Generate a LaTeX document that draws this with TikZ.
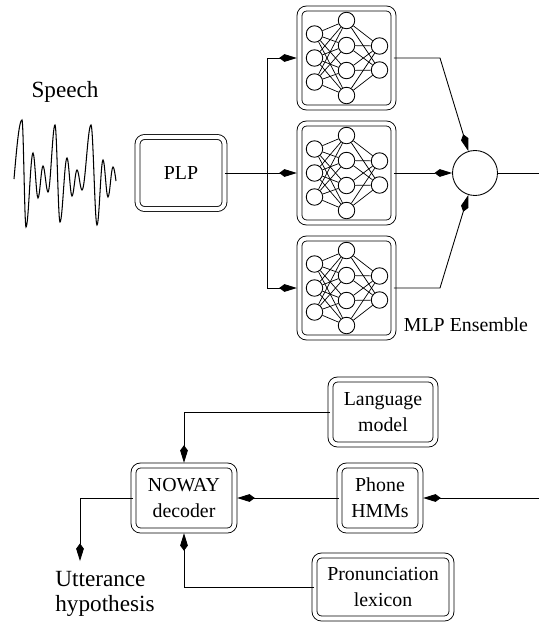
\documentclass[tikz,border=0pt]{standalone}
\usepackage{fontspec}
\setmainfont{Liberation Serif}
\usetikzlibrary{arrows.meta,positioning}

\tikzset{
  blk/.style={draw, double, double distance=2.3pt, rounded corners=4pt,
    align=center, inner sep=0pt, font=\fontsize{11.3}{14.7}\selectfont},
  unit/.style={circle, draw, minimum size=0.33cm, inner sep=0pt},
  txt/.style={font=\fontsize{11.3}{14.7}\selectfont, inner sep=0pt},
  lbl/.style={font=\fontsize{13.2}{14.4}\selectfont, inner sep=0pt},
  arr/.style={-{Kite[length=10pt,width=4.4pt,inset=3pt]}},
  arrd/.style={arr, shorten >=1.3pt},
}

\begin{document}
\begin{tikzpicture}[x=0.02cm, y=-0.02cm, line width=0.5pt]
  \useasboundingbox (0,0) rectangle (539,622);

  \node[lbl] (speech) at (65,92) {Speech};
  \draw[line width=0.6pt] (14,179) sin (22,120)
    \foreach \x/\y [remember=\x as \px (initially 22), remember=\y as \py (initially 120)]
      in {26/227,33/153,38/198,43/166,48/192,55/125,60/222,67/158,72/196,
          77/170,82/190,91/125,97/225,103/160,108/197,113/167}
      { cos ({(\px+\x)/2},{(\py+\y)/2}) sin (\x,\y) }
    cos (116,181);

  \node[blk, minimum width=1.74cm, minimum height=1.44cm] (plp) at (181,173) {PLP};
  \coordinate (trunk) at (267,173);

  % ensemble of nets
  \foreach \b/\cy in {1/58,2/173,3/288}{
    \node[blk, minimum width=1.88cm, minimum height=1.98cm] (mlp\b) at (346.5,\cy) {};
    \foreach \k/\dy in {1/-24,2/0,3/24}
      \node[unit] (in\b\k) at ({314.5},{\cy+(\dy)}) {};
    \foreach \k/\dy in {1/-37.5,2/-12.5,3/12.5,4/37.5}
      \node[unit] (hid\b\k) at ({346.5},{\cy+(\dy)}) {};
    \foreach \k/\dy in {1/-12,2/12}
      \node[unit] (out\b\k) at ({379.5},{\cy+(\dy)}) {};
    \foreach \i in {1,2,3}
      \foreach \j in {1,...,4}
        \draw[line width=0.4pt] (in\b\i) -- (hid\b\j);
    \foreach \j in {1,...,4}
      \foreach \k in {1,2}
        \draw[line width=0.4pt] (hid\b\j) -- (out\b\k);
  }

  \draw (plp) -- (trunk);
  \draw[arrd] (trunk) |- (mlp1);
  \draw[arrd] (trunk) -- (mlp2);
  \draw[arrd] (trunk) |- (mlp3);

  \node[circle, draw, minimum size=0.9cm] (comb) at (475,173) {};
  \coordinate (bend1) at (440,58);
  \coordinate (bend3) at (440,288);
  \coordinate (ensout) at (539,173);
  \draw[arr] (mlp1) -- (bend1) -- (comb);
  \draw[arr] (mlp2) -- (comb);
  \draw[arr] (mlp3) -- (bend3) -- (comb);
  \draw (comb) -- (ensout);
  \node[txt] (ens) at (466,325) {MLP Ensemble};

  % decoding
  \node[blk, minimum width=2.1cm, minimum height=1.3cm] (lm) at (383,412) {Language\\model};
  \node[blk, minimum width=2.02cm, minimum height=1.3cm] (nw) at (184,498) {NOWAY\\decoder};
  \node[blk, minimum width=1.62cm, minimum height=1.3cm] (hmm) at (380,498) {Phone\\HMMs};
  \node[blk, minimum width=2.74cm, minimum height=1.26cm] (lex) at (383,587) {Pronunciation\\lexicon};
  \coordinate (hmmin) at (539,498);
  \coordinate (uttend) at (80,561);
  \node[lbl, align=left] (utt) at (105,594) {Utterance\\hypothesis};

  \draw[arrd] (lm) -| (nw);
  \draw[arrd] (hmm) -- (nw);
  \draw[arrd] (lex) -| (nw);
  \draw[arrd] (hmmin) -- (hmm);
  \draw[arr] (nw) -| (uttend);
\end{tikzpicture}
\end{document}
